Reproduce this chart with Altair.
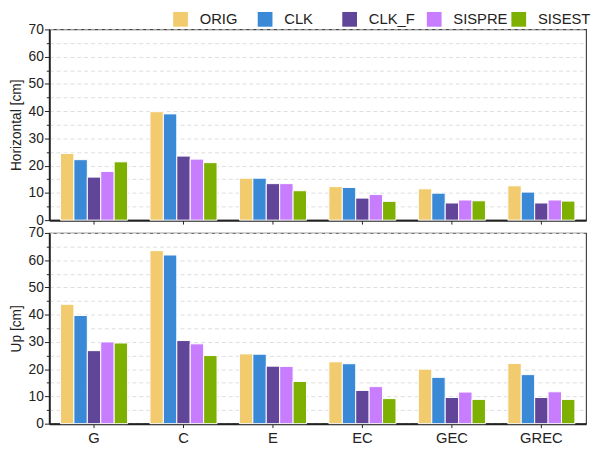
import altair as alt
import pandas as pd

categories = ["G", "C", "E", "EC", "GEC", "GREC"]
series = ["ORIG", "CLK", "CLK_F", "SISPRE", "SISEST"]
colors = ["#f2cb6f", "#3a89d6", "#614599", "#c87cfe", "#7db000"]

horiz_orig = [24.5, 39.8, 15.4, 12.3, 11.5, 12.6]
horiz_clk = [22.2, 39.0, 15.4, 12.0, 9.9, 10.3]
horiz_clkf = [15.8, 23.5, 13.4, 8.1, 6.3, 6.3]
horiz_sispre = [17.9, 22.4, 13.4, 9.4, 7.4, 7.4]
horiz_sisest = [21.4, 21.1, 10.8, 6.9, 7.1, 7.0]

up_orig = [43.8, 63.5, 25.6, 22.7, 20.0, 22.1]
up_clk = [39.7, 61.9, 25.5, 22.0, 17.0, 18.0]
up_clkf = [26.8, 30.5, 21.1, 12.2, 9.6, 9.6]
up_sispre = [30.0, 29.3, 21.0, 13.6, 11.6, 11.7]
up_sisest = [29.6, 25.0, 15.5, 9.2, 8.9, 8.9]


def make_df(lists):
    rows = []
    for s, vals in zip(series, lists):
        for c, v in zip(categories, vals):
            rows.append({"cat": c, "series": s, "value": v})
    return pd.DataFrame(rows)


df_h = make_df([horiz_orig, horiz_clk, horiz_clkf, horiz_sispre, horiz_sisest])
df_u = make_df([up_orig, up_clk, up_clkf, up_sispre, up_sisest])

FONT = "Liberation Sans"


def panel(df, title, show_labels, legend):
    return alt.Chart(df).mark_bar(stroke="white", strokeWidth=1).encode(
        x=alt.X(
            "cat:N",
            sort=categories,
            scale=alt.Scale(paddingInner=0.25, paddingOuter=0.125),
            axis=alt.Axis(
                title=None,
                labels=show_labels,
                labelAngle=0,
                labelFontSize=15,
                labelPadding=3,
                tickSize=4,
                tickColor="#222",
                domainColor="#222",
                domainWidth=2,
                labelColor="#222",
            ),
        ),
        xOffset=alt.XOffset("series:N", sort=series,
                            scale=alt.Scale(paddingInner=0, paddingOuter=0)),
        y=alt.Y(
            "value:Q",
            scale=alt.Scale(domain=[0, 70], nice=False),
            axis=alt.Axis(
                title=title,
                titleFontSize=14,
                titleFontWeight="normal",
                titleColor="#222",
                titlePadding=5,
                values=list(range(0, 71, 5)),
                labelExpr="datum.value % 10 === 0 ? datum.label : ''",
                labelFontSize=14,
                labelPadding=1,
                labelColor="#222",
                tickSize={"condition": {"test": "datum.value % 10 === 0", "value": 5}, "value": 3},
                tickColor="#222",
                domainColor="#222",
                domainWidth=2,
                grid=True,
                gridDash=[4, 3],
                gridColor="#dddddd",
                gridWidth=1,
            ),
        ),
        color=alt.Color(
            "series:N",
            sort=series,
            scale=alt.Scale(domain=series, range=colors),
            legend=legend,
        ),
    ).properties(width=546, height=194)


leg = alt.Legend(
    title=None,
    orient="none",
    legendX=126,
    legendY=-18,
    direction="horizontal",
    columns=5,
    gridAlign="all",
    columnPadding=3,
    padding=0,
    symbolType="square",
    symbolSize=225,
    symbolStrokeWidth=0,
    symbolOpacity=1,
    labelFontSize=15,
    labelOffset=12,
    labelColor="#222",
)

top = panel(df_h, "Horizontal [cm]", False, leg)
bottom = panel(df_u, "Up [cm]", True, leg)

chart = alt.vconcat(top, bottom, spacing=13, bounds="flush").configure(
    font=FONT,
    padding={"top": 0, "left": 0, "right": 1, "bottom": 0},
    view=alt.ViewConfig(stroke="#444", strokeWidth=1.2),
)

chart.save("out.html", embed_options={"renderer": "svg", "actions": False})
